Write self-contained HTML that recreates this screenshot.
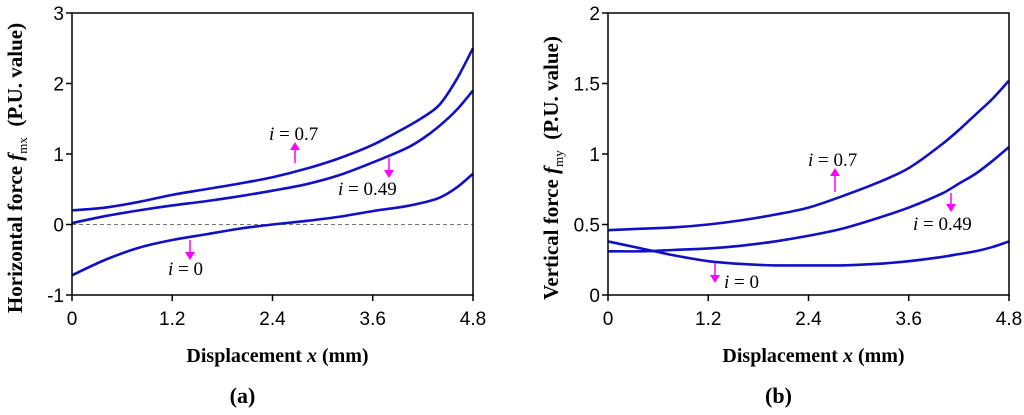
<!DOCTYPE html>
<html><head><meta charset="utf-8"><style>
body{margin:0;background:#fff}
svg text{font-family:"Liberation Sans",sans-serif}
.t{font-family:"Liberation Serif",serif}
</style></head><body>
<svg width="1024" height="410" viewBox="0 0 1024 410">
<g id="ga"></g>
<g id="gb"></g>
</svg>
<script>
const xVals=[0,0.4,0.8,1.2,1.6,2.0,2.4,2.8,3.2,3.6,4.0,4.2,4.4,4.6,4.8];
const xTicks=[0,1.2,2.4,3.6,4.8];
const aTicks=[-1,0,1,2,3];
const bTicks=[0,0.5,1,1.5,2];
const a07=[0.2,0.24,0.32,0.42,0.5,0.58,0.67,0.79,0.94,1.13,1.38,1.52,1.7,2.05,2.5];
const a049=[0.02,0.12,0.2,0.27,0.33,0.4,0.48,0.57,0.7,0.88,1.08,1.22,1.4,1.62,1.9];
const a0=[-0.72,-0.5,-0.33,-0.22,-0.14,-0.06,0.0,0.05,0.11,0.19,0.26,0.31,0.38,0.52,0.72];
const b07=[0.46,0.47,0.48,0.5,0.53,0.57,0.62,0.7,0.79,0.9,1.07,1.17,1.28,1.39,1.52];
const b049=[0.31,0.31,0.32,0.33,0.35,0.38,0.42,0.47,0.54,0.62,0.72,0.79,0.86,0.95,1.05];
const b0=[0.38,0.33,0.28,0.24,0.22,0.21,0.21,0.21,0.22,0.24,0.27,0.29,0.31,0.34,0.38];
const NS="http://www.w3.org/2000/svg";
function mk(p,tag,at,txt){const e=document.createElementNS(NS,tag);for(const k in at)e.setAttribute(k,at[k]);if(txt!=null)e.textContent=txt;p.appendChild(e);return e;}
function smooth(pts){let d=`M${pts[0][0]},${pts[0][1]}`;for(let i=0;i<pts.length-1;i++){const p0=pts[i-1]||pts[i],p1=pts[i],p2=pts[i+1],p3=pts[i+2]||p2;
 const h1=(p2[0]-p1[0])/(p2[0]-p0[0]||1),h2=(p2[0]-p1[0])/(p3[0]-p1[0]||1);
 d+=` C${p1[0]+(p2[0]-p0[0])*h1/3},${p1[1]+(p2[1]-p0[1])*h1/3} ${p2[0]-(p3[0]-p1[0])*h2/3},${p2[1]-(p3[1]-p1[1])*h2/3} ${p2[0]},${p2[1]}`;}return d;}
function chart(g,x0,x1,ymin,ymax,yt,series,ytitle,sub,letter,labels,zero){
 const y0=295,y1=13;
 const sx=v=>x0+(v-0)/4.8*(x1-x0), sy=v=>y0-(v-ymin)/(ymax-ymin)*(y0-y1);
 if(zero){const z=mk(g,'line',{x1:x0,x2:x1,y1:sy(0),y2:sy(0),stroke:'#777','stroke-dasharray':'4,3','stroke-width':1});}
 series.forEach((s,i)=>{const p=mk(g,'path',{d:smooth(xVals.map((x,j)=>[sx(x),sy(s.v[j])])),fill:'none',stroke:'#1010c8','stroke-width':2.6});
  
  });
 const f=mk(g,'rect',{x:x0,y:y1,width:x1-x0,height:y0-y1,fill:'none',stroke:'#000','stroke-width':1.5});
 
 yt.forEach(v=>{mk(g,'line',{x1:x0-6,x2:x0,y1:sy(v),y2:sy(v),stroke:'#000','stroke-width':1.5});
  const t=mk(g,'text',{x:x0-8,y:sy(v)+7,'text-anchor':'end','font-size':19},String(v));
  });
 xTicks.forEach(v=>{mk(g,'line',{x1:sx(v),x2:sx(v),y1:y0,y2:y0+6,stroke:'#000','stroke-width':1.5});
  const t=mk(g,'text',{x:sx(v),y:y0+30,'text-anchor':'middle','font-size':19},String(v));
  });
 const xt=mk(g,'text',{x:(x0+x1)/2+5,y:362,'text-anchor':'middle','font-size':20,'font-weight':'bold',class:'t'});
 xt.innerHTML='Displacement <tspan font-style="italic">x</tspan>  (mm)';
 
 const yl=mk(g,'text',{transform:`translate(${x0-50},${(y0+y1)/2+14}) rotate(-90)`,'text-anchor':'middle','font-size':21,'font-weight':'bold',class:'t'});
 yl.innerHTML=ytitle+' <tspan font-style="italic">f</tspan><tspan font-size="13" font-weight="normal" dy="5">'+sub+'</tspan><tspan dy="-5" xml:space="preserve">  (P.U. value)</tspan>';
 
 const L=mk(g,'text',{x:(x0+x1)/2-30,y:403,'text-anchor':'middle','font-size':22,'font-weight':'bold',class:'t'},'('+letter+')');
 
 labels.forEach(l=>{const t=mk(g,'text',{x:l.tx,y:l.ty,'font-size':19,class:'t'});t.innerHTML='<tspan font-style="italic">i</tspan> = '+l.s;
  
  const up=l.a2<l.a1;mk(g,'line',{x1:l.ax,x2:l.ax,y1:l.a1,y2:l.a2+(up?6:-6),stroke:'#f0f',"stroke-width":1.5});
  const a=mk(g,'polygon',{points:`${l.ax-5},${l.a2+(up?8:-8)} ${l.ax+5},${l.a2+(up?8:-8)} ${l.ax},${l.a2}`,fill:'#f0f'});
  });
}
chart(document.getElementById('ga'),72,473,-1,3,aTicks,[{n:'i0.7',v:a07},{n:'i0.49',v:a049},{n:'i0',v:a0}],'Horizontal force','mx','a',
 [{s:'0.7',tx:269,ty:140,ax:295,a1:163,a2:142},{s:'0.49',tx:338,ty:195,ax:389,a1:158,a2:178},{s:'0',tx:168,ty:275,ax:190,a1:240,a2:260}],true);
chart(document.getElementById('gb'),608,1009,0,2,bTicks,[{n:'i0.7',v:b07},{n:'i0.49',v:b049},{n:'i0',v:b0}],'Vertical force','my','b',
 [{s:'0.7',tx:808,ty:166,ax:835,a1:192,a2:168},{s:'0.49',tx:913,ty:230,ax:951,a1:193,a2:212},{s:'0',tx:724,ty:288,ax:715,a1:263,a2:283}],false);
</script>
</body></html>
